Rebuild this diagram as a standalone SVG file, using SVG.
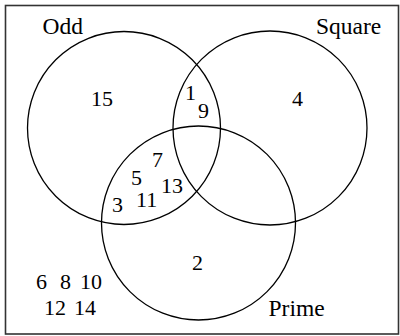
<svg xmlns="http://www.w3.org/2000/svg" width="400" height="336" viewBox="0 0 400 336">
<style>
.set{fill:none;stroke:#000;stroke-width:1.3}
text{font-family:'Liberation Serif','Times New Roman',Times,'DejaVu Serif',serif;font-size:22px;fill:#000}
.lbl{font-size:23.5px}
</style>
<rect x="0" y="0" width="400" height="336" fill="#fff"/>
<rect x="5.5" y="5.5" width="393" height="328.5" fill="none" stroke="#333" stroke-width="1.6"/>
<g id="odd"><circle class="set" cx="124" cy="128" r="96.5"/><text class="lbl" x="42.5" y="33.5">Odd</text></g>
<g id="square"><circle class="set" cx="270" cy="128" r="97"/><text class="lbl" x="316" y="33.5">Square</text></g>
<g id="prime"><circle class="set" cx="198.5" cy="223" r="97"/><text class="lbl" x="268.5" y="316">Prime</text></g>
<g id="numbers">
<text x="91" y="106">15</text>
<text x="292" y="106">4</text>
<text x="185" y="100">1</text>
<text x="198" y="118">9</text>
<text x="152" y="167">7</text>
<text x="131" y="185">5</text>
<text x="161" y="193">13</text>
<text x="112" y="212">3</text>
<text x="136" y="207">11</text>
<text x="192" y="270">2</text>
<text x="36" y="289">6</text>
<text x="60" y="289">8</text>
<text x="80" y="289">10</text>
<text x="44" y="315">12</text>
<text x="74" y="315">14</text>
</g>
</svg>
